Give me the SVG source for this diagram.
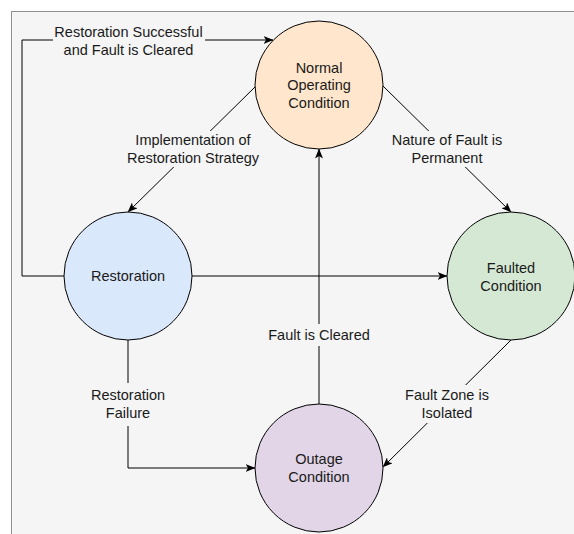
<svg xmlns="http://www.w3.org/2000/svg" width="574" height="534" viewBox="0 0 574 534">
  <style>
    .node { stroke: #000; stroke-width: 1; }
    .edge { fill: none; stroke: #000; stroke-width: 1; }
    .lbl-bg { fill: #f5f5f5; stroke: none; }
    text { font-family: "Liberation Sans", Arial, sans-serif; font-size: 14.5px; fill: #1a1a1a; text-anchor: middle; }
  </style>
  <defs>
    <marker id="arrow" viewBox="0 0 10 8" refX="9.5" refY="4" markerWidth="10" markerHeight="8" markerUnits="userSpaceOnUse" orient="auto">
      <path d="M0,0 L10,4 L0,8 L2.5,4 Z" fill="#000"/>
    </marker>
  </defs>

  <rect x="0" y="0" width="574" height="534" fill="#ffffff"/>
  <!-- background panel -->
  <rect x="11.5" y="11.5" width="580" height="540" fill="#f5f5f5" stroke="#8f8f8f" stroke-width="1"/>

  <g id="connectors">
    <!-- Restoration -> Normal (loop over the left) -->
    <polyline class="edge" points="64,276 22,276 22,40 273,40" marker-end="url(#arrow)"/>
    <!-- Normal -> Restoration -->
    <line class="edge" x1="256" y1="86" x2="128" y2="212" marker-end="url(#arrow)"/>
    <!-- Normal -> Faulted -->
    <line class="edge" x1="383" y1="86" x2="511" y2="212" marker-end="url(#arrow)"/>
    <!-- Restoration -> Faulted -->
    <line class="edge" x1="192" y1="276" x2="447" y2="276" marker-end="url(#arrow)"/>
    <!-- Outage -> Normal -->
    <line class="edge" x1="319" y1="404" x2="319" y2="149" marker-end="url(#arrow)"/>
    <!-- Restoration -> Outage -->
    <polyline class="edge" points="128,340 128,468 255,468" marker-end="url(#arrow)"/>
    <!-- Faulted -> Outage -->
    <line class="edge" x1="511" y1="340" x2="383" y2="467" marker-end="url(#arrow)"/>

    <!-- edge labels -->
    <g id="label-success">
      <rect class="lbl-bg" x="53" y="23" width="152" height="36"/>
      <text x="128.5" y="37">Restoration Successful</text>
      <text x="128.5" y="55">and Fault is Cleared</text>
    </g>
    <g id="label-implementation">
      <rect class="lbl-bg" x="126" y="131" width="134" height="36"/>
      <text x="193" y="145">Implementation of</text>
      <text x="193" y="163">Restoration Strategy</text>
    </g>
    <g id="label-nature">
      <rect class="lbl-bg" x="390" y="131" width="114" height="36"/>
      <text x="447" y="145">Nature of Fault is</text>
      <text x="447" y="163">Permanent</text>
    </g>
    <g id="label-cleared">
      <rect class="lbl-bg" x="265" y="324" width="108" height="22"/>
      <text x="319" y="340">Fault is Cleared</text>
    </g>
    <g id="label-failure">
      <rect class="lbl-bg" x="88" y="383" width="80" height="43"/>
      <text x="128" y="400">Restoration</text>
      <text x="128" y="418">Failure</text>
    </g>
    <g id="label-isolated">
      <rect class="lbl-bg" x="403" y="385" width="88" height="38"/>
      <text x="447" y="400">Fault Zone is</text>
      <text x="447" y="418">Isolated</text>
    </g>
  </g>

  <g id="normal">
    <circle class="node" cx="319" cy="85" r="64" fill="#ffe6cc"/>
    <text x="319" y="72.5">Normal</text>
    <text x="319" y="90">Operating</text>
    <text x="319" y="107.5">Condition</text>
  </g>
  <g id="restoration">
    <circle class="node" cx="128" cy="276" r="64" fill="#dae8fc"/>
    <text x="128" y="281">Restoration</text>
  </g>
  <g id="faulted">
    <circle class="node" cx="511" cy="276" r="64" fill="#d5e8d4"/>
    <text x="511" y="273">Faulted</text>
    <text x="511" y="291">Condition</text>
  </g>
  <g id="outage">
    <circle class="node" cx="319" cy="468" r="64" fill="#e1d5e7"/>
    <text x="319" y="464">Outage</text>
    <text x="319" y="482">Condition</text>
  </g>
</svg>
